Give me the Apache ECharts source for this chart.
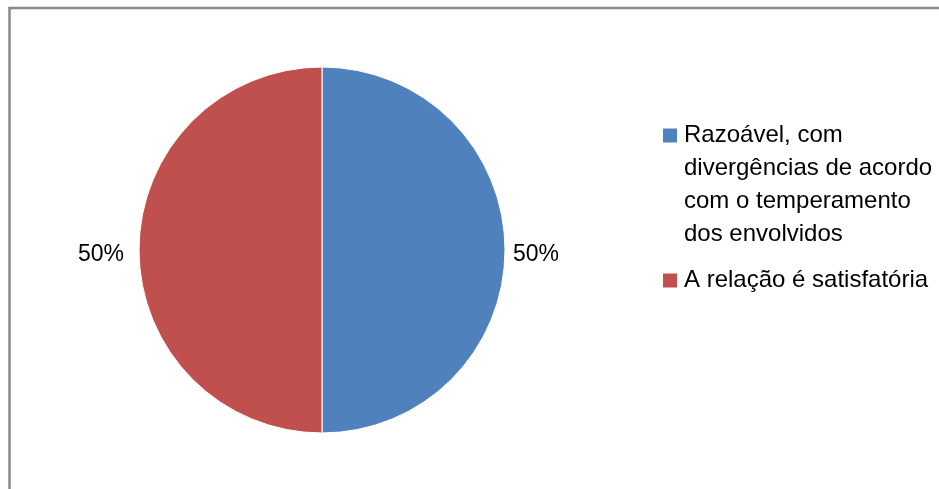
<!DOCTYPE html>
<html>
<head>
<meta charset="utf-8">
<script src="https://cdn.jsdelivr.net/npm/echarts@6/dist/echarts.min.js"></script>
<style>
html,body{margin:0;padding:0;background:#fff;}
#c{width:939px;height:489px;}
</style>
</head>
<body>
<div id="c"></div>
<script>
var categories = ['Razoável, com divergências de acordo com o temperamento dos envolvidos', 'A relação é satisfatória'];
var values = [50, 50];
var colors = ['#4F81BD', '#C0504D'];
var legendLines = [
  ['Razoável, com', 'divergências de acordo', 'com o temperamento', 'dos envolvidos'],
  ['A relação é satisfatória']
];

var FONT = 'Liberation Sans';
var FS = 23;
var LFS = 24;
var LH = 33;
var chart = echarts.init(document.getElementById('c'), null, {renderer: 'canvas'});

var rich = {
  t: {fontFamily: FONT, fontSize: LFS, color: '#000', lineHeight: LH},
  ind: {width: 21, height: 14},
  g: {width: 7, height: 14},
  sq0: {width: 14, height: 14, backgroundColor: colors[0]},
  sq1: {width: 14, height: 14, backgroundColor: colors[1]}
};
var labelGap = [3, 10];

chart.setOption({
  animation: false,
  color: colors,
  graphic: [{
    type: 'rect', silent: true,
    shape: {x: 9.5, y: 8, width: 1200, height: 1200},
    style: {fill: 'none', stroke: '#898989', lineWidth: 2.5}
  }],
  legend: {
    orient: 'vertical',
    left: 652,
    top: 114,
    itemWidth: 0,
    itemHeight: 0,
    itemGap: 13,
    icon: 'rect',
    selectedMode: false,
    data: categories,
    textStyle: {rich: rich, fontFamily: FONT, fontSize: LFS, lineHeight: LH},
    formatter: function (name) {
      var i = categories.indexOf(name);
      return legendLines[i].map(function (l, k) {
        return (k === 0 ? '{sq' + i + '|}{g|}' : '{ind|}') + '{t|' + l + '}';
      }).join('\n');
    }
  },
  series: [{
    type: 'pie',
    center: [322, 250],
    radius: [0, 183],
    startAngle: 90,
    clockwise: true,
    data: categories.map(function (c, i) {
      return {name: c, value: values[i], labelLine: {length2: labelGap[i]}};
    }),
    itemStyle: {borderColor: '#fff', borderWidth: 1},
    label: {
      show: true,
      position: 'outside',
      formatter: function (p) { return '{p|' + Math.round(p.percent) + '%}'; },
      fontFamily: FONT,
      fontSize: FS,
      color: '#000',
      rich: {p: {fontFamily: FONT, fontSize: FS, color: '#000', padding: [9, 0, 0, 0]}}
    },
    labelLine: {show: false, length: 0, length2: 10},
    emphasis: {disabled: true}
  }]
});
</script>
</body>
</html>
